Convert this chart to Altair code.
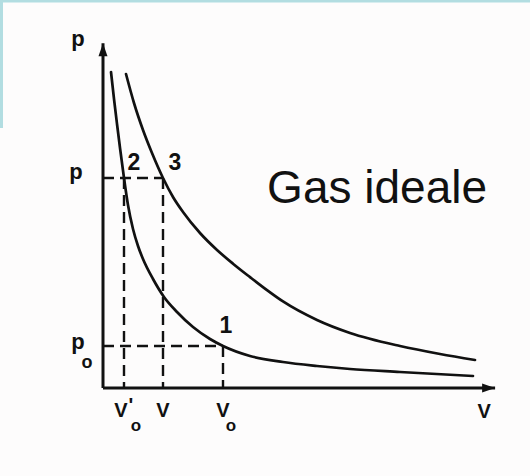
import altair as alt
import pandas as pd

# Isotherm through states 1 and 2 (lower temperature): volume, pressure
inner_v = [0.267, 0.367, 0.467, 0.567, 0.7, 0.833, 1.0, 1.167, 1.333, 1.667,
           2.033, 2.467, 3.0, 3.567, 4.0, 4.9, 6.0, 7.133, 8.233, 9.9, 12.333]
inner_p = [7.524, 6.881, 6.286, 5.714, 5.0, 4.357, 3.786, 3.381, 3.071, 2.595,
           2.167, 1.81, 1.452, 1.167, 1.0, 0.762, 0.619, 0.524, 0.452, 0.381, 0.286]

# Isotherm through state 3 (higher temperature)
outer_v = [0.767, 1.033, 1.333, 1.633, 2.0, 2.333, 2.667, 3.233, 3.8, 4.333,
           4.9, 5.467, 6.0, 7.133, 8.233, 9.9, 11.233, 12.4]
outer_p = [7.476, 6.786, 6.143, 5.595, 5.0, 4.548, 4.19, 3.69, 3.286, 2.96,
           2.64, 2.33, 2.06, 1.619, 1.31, 1.0, 0.81, 0.667]

# States: 1 = (V0, p0), 2 = (V0', p), 3 = (V, p)
V0, P0 = 4.0, 1.0
V0P, V1, P1 = 0.7, 2.0, 5.0

# Length of the drawn axes
V_MAX, P_MAX = 13.07, 8.21

# Anchor of the "Gas ideale" caption
CAPTION_V, CAPTION_P = 5.47, 4.40

INK = "#111111"
X_SCALE = alt.Scale(domain=[-3.4333, 14.2333], nice=False, zero=False)
Y_SCALE = alt.Scale(domain=[-2.0952, 9.2381], nice=False, zero=False)


def xy():
    return dict(
        x=alt.X("v:Q", scale=X_SCALE, axis=None),
        y=alt.Y("p:Q", scale=Y_SCALE, axis=None),
    )


def segs(rows):
    return pd.DataFrame(rows, columns=["v", "p", "v2", "p2"])


def seg_enc():
    return dict(**xy(), x2="v2:Q", y2="p2:Q")


# Axes with arrowheads
axes = alt.Chart(segs([[0, 0, 0, P_MAX], [0, 0, V_MAX, 0]])).mark_rule(
    color=INK, strokeWidth=3
).encode(**seg_enc())

up_head = alt.Chart(pd.DataFrame({"v": [0], "p": [P_MAX]})).mark_point(
    shape="M0,0L-0.45,1.3L0.45,1.3Z", size=400, filled=True, color=INK, opacity=1
).encode(**xy())
right_head = alt.Chart(pd.DataFrame({"v": [V_MAX], "p": [0]})).mark_point(
    shape="M0,0L-1.3,-0.45L-1.3,0.45Z", size=400, filled=True, color=INK, opacity=1
).encode(**xy())

# Dashed construction lines
guides = alt.Chart(segs([
    [0, P1, V1, P1],
    [0, P0, V0, P0],
    [V0P, P1, V0P, 0],
    [V1, P1, V1, 0],
    [V0, P0, V0, 0],
])).mark_rule(color=INK, strokeWidth=2.4, strokeDash=[11, 6]).encode(**seg_enc())

# Isotherms
curves_df = pd.concat([
    pd.DataFrame({"v": inner_v, "p": inner_p, "curve": "T1",
                  "i": range(len(inner_v))}),
    pd.DataFrame({"v": outer_v, "p": outer_p, "curve": "T2",
                  "i": range(len(outer_v))}),
])
curves = alt.Chart(curves_df).mark_line(
    color=INK, strokeWidth=2.7, interpolate="monotone", strokeCap="round"
).encode(**xy(), detail="curve:N", order="i:Q")


def label(text, v, p, dx, dy, size=20, weight="bold", font="Liberation Sans",
          align="center", baseline="alphabetic"):
    return alt.Chart(pd.DataFrame({"v": [v], "p": [p], "t": [text]})).mark_text(
        dx=dx, dy=dy, fontSize=size, fontWeight=weight, font=font,
        align=align, baseline=baseline, color=INK
    ).encode(**xy(), text="t:N")


labels = [
    # axis names
    label("p", 0, P_MAX, -25, 3, size=22),
    label("V", V_MAX, 0, -11, 30),
    # pressure levels
    label("p", 0, P1, -27, 1, size=22),
    label("p", 0, P0, -25, 3, size=22),
    label("o", 0, P0, -16, 22, size=18),
    # volume levels
    label("V", V0P, 0, -3, 29),
    label("'", V0P, 0, 7, 24, size=20),
    label("o", V0P, 0, 12, 43, size=17),
    label("V", V1, 0, 0, 29),
    label("V", V0, 0, 0, 29),
    label("o", V0, 0, 8, 43, size=17),
    # state numbers
    label("1", V0, P0, 3, -13, size=23),
    label("2", V0P, P1, 10, -8, size=23),
    label("3", V1, P1, 12, -8, size=23),
    # caption
    label("Gas ideale", CAPTION_V, CAPTION_P, 0, 0, size=46, weight="normal",
          align="left"),
]

# Light frame strips along the top and upper-left edges
frame_top = alt.Chart(pd.DataFrame({"k": [0]})).mark_rect(color="#b2dde1").encode(
    x=alt.value(0), x2=alt.value(530), y=alt.value(0), y2=alt.value(2.5)
)
frame_left = alt.Chart(pd.DataFrame({"k": [0]})).mark_rect(color="#b2dde1").encode(
    x=alt.value(0), x2=alt.value(3), y=alt.value(0), y2=alt.value(128)
)

chart = alt.layer(
    frame_top, frame_left, guides, axes, up_head, right_head, curves, *labels
).properties(
    width=530,
    height=476,
    autosize=alt.AutoSizeParams(type="none"),
    padding=0,
    background="#fdfcfc",
).configure_view(stroke=None)

chart.save("out.html", embed_options={"renderer": "svg", "actions": False})
